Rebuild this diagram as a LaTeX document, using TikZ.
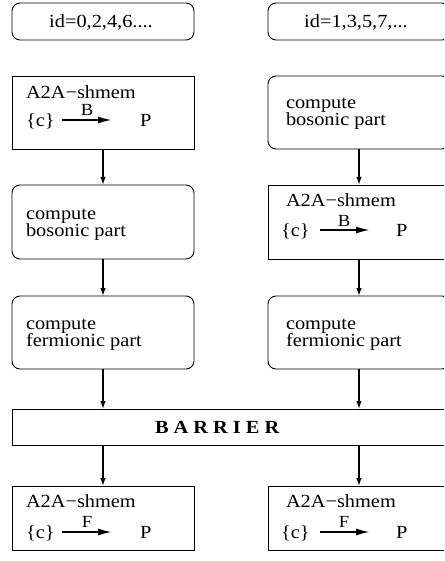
\documentclass[tikz,border=0pt]{standalone}
\usepackage{fontspec}
\setmainfont[FakeStretch=1.1]{Liberation Serif}
\usetikzlibrary{arrows.meta}
\begin{document}
\begin{tikzpicture}[x=1pt,y=-1pt,
  every node/.style={inner sep=0pt, outer sep=0pt},
  box/.style={draw, line width=0.9pt, anchor=north west, minimum width=182pt},
  rbox/.style={box, rounded corners=8pt},
  txt/.style={anchor=base west, font=\fontsize{18.5}{17}\selectfont},
  ctxt/.style={anchor=base, font=\fontsize{18.5}{17}\selectfont},
  lbl/.style={anchor=base, font=\fontsize{17}{17}\selectfont},
  flow/.style={line width=1.3pt, -{Latex[length=8pt,width=5.5pt]}},
  inarr/.style={line width=1.9pt, -{Latex[length=14pt,width=7pt]}}]
\useasboundingbox (0,0) rectangle (444,561);
\clip (0,0) rectangle (444,561);

% row 1
\node[rbox, minimum height=37pt] (l1) at (12,3) {};
\node[ctxt] (l1t) at (101,28) {id=0,2,4,6....};
\node[rbox, minimum height=37pt] (r1) at (268,3) {};
\node[ctxt] (r1t) at (356,28) {id=1,3,5,7,...};

% row 2
\node[box, minimum height=73pt] (l2) at (12,76) {};
\node[txt] (l2a) at (26,99) {A2A−shmem};
\node[txt] (l2c) at (26,127) {\{c\}};
\node[txt] (l2p) at (140,127) {P};
\coordinate (l2s) at (62,120);
\coordinate (l2e) at (112,120);
\draw[inarr] (l2s) -- (l2e);
\node[lbl] (l2b) at (87,116) {B};

\node[rbox, minimum height=73pt] (r2) at (268,76) {};
\node[txt] (r2a) at (286,109) {compute};
\node[txt] (r2b) at (286,126) {bosonic part};

% row 3
\node[rbox, minimum height=74pt] (l3) at (12,185) {};
\node[txt] (l3a) at (26,219) {compute};
\node[txt] (l3b) at (26,236) {bosonic part};

\node[box, minimum height=74pt] (r3) at (268,185) {};
\node[txt] (r3a) at (286,207) {A2A−shmem};
\node[txt] (r3c) at (281,236) {\{c\}};
\node[txt] (r3p) at (396,236) {P};
\coordinate (r3s) at (320,230);
\coordinate (r3e) at (370,230);
\draw[inarr] (r3s) -- (r3e);
\node[lbl] (r3b) at (344,226) {B};

% row 4
\node[rbox, minimum height=73pt] (l4) at (12,296) {};
\node[txt] (l4a) at (26,329) {compute};
\node[txt] (l4b) at (26,346) {fermionic part};
\node[rbox, minimum height=73pt] (r4) at (268,296) {};
\node[txt] (r4a) at (286,329) {compute};
\node[txt] (r4b) at (286,346) {fermionic part};

% barrier
\node[box, minimum width=448pt, minimum height=36pt] (bar) at (12,409) {};
\node[txt, font=\fontsize{18.5}{17}\selectfont\bfseries] (bart) at (155,433) {B A R R I E R};

% row 5
\node[box, minimum height=64pt] (l5) at (12,486) {};
\node[txt] (l5a) at (26,507) {A2A−shmem};
\node[txt] (l5c) at (26,538) {\{c\}};
\node[txt] (l5p) at (140,538) {P};
\coordinate (l5s) at (62,532);
\coordinate (l5e) at (112,532);
\draw[inarr] (l5s) -- (l5e);
\node[lbl] (l5f) at (87,527) {F};

\node[box, minimum height=64pt] (r5) at (268,486) {};
\node[txt] (r5a) at (286,507) {A2A−shmem};
\node[txt] (r5c) at (281,538) {\{c\}};
\node[txt] (r5p) at (396,538) {P};
\coordinate (r5s) at (320,532);
\coordinate (r5e) at (370,532);
\draw[inarr] (r5s) -- (r5e);
\node[lbl] (r5f) at (344,527) {F};

% flow arrows
\draw[flow] (l2.south) -- (l3.north);
\draw[flow] (l3.south) -- (l4.north);
\draw[flow] (l4.south) -- (l4.south |- bar.north);
\draw[flow] (l5.north |- bar.south) -- (l5.north);
\draw[flow] (r2.south) -- (r3.north);
\draw[flow] (r3.south) -- (r4.north);
\draw[flow] (r4.south) -- (r4.south |- bar.north);
\draw[flow] (r5.north |- bar.south) -- (r5.north);
\end{tikzpicture}
\end{document}
